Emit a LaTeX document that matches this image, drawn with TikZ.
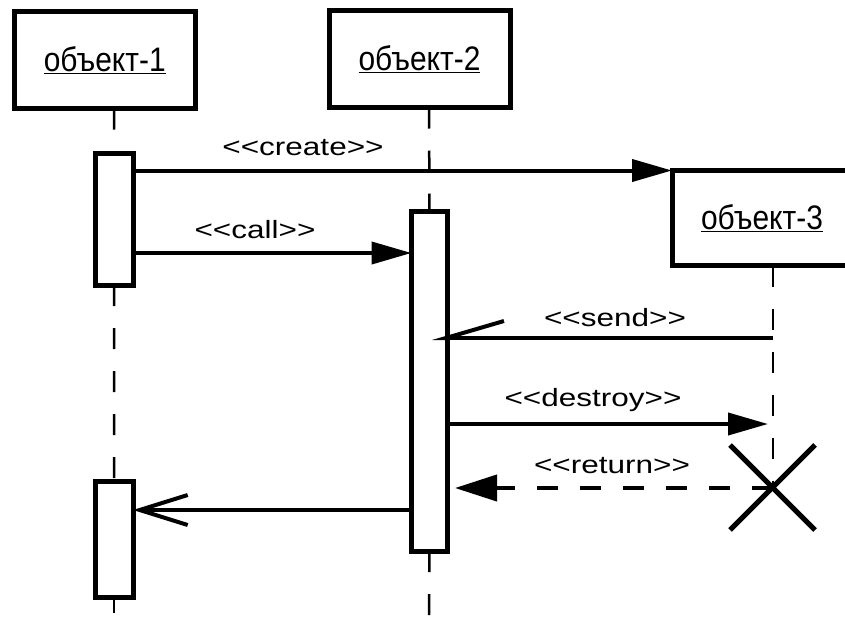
\documentclass[tikz,border=0pt]{standalone}
\usepackage{fontspec}
\setmainfont{Liberation Sans}
\usetikzlibrary{arrows.meta}
\newcommand{\objtext}[1]{\scalebox{0.88}[1]{\underline{#1}}}
\newcommand{\lbltext}[1]{\scalebox{1.26}[1]{#1}}
\begin{document}
\begin{tikzpicture}[x=1pt,y=-1pt,
  objbox/.style={draw,line width=5pt,inner sep=0pt,outer sep=0pt,font=\fontsize{34}{38}\selectfont},
  actbox/.style={draw,fill=white,line width=5pt,inner sep=0pt,outer sep=0pt},
  lifeline/.style={line width=2.5pt,dash pattern=on 21pt off 22pt},
  msg/.style={line width=4pt,-{Triangle[length=40pt,width=22pt]}},
  ret/.style={line width=4pt,dash pattern=on 21pt off 22pt,-{Triangle[length=42pt,width=26pt]}},
  reply/.style={line width=4pt,-{Straight Barb[length=48pt,width=30pt,line width=4pt]}},
  halfmsg/.style={line width=4pt,-{Straight Barb[harpoon,swap,length=58pt,width=34pt,line width=4pt]}},
  lbl/.style={font=\fontsize{25}{29}\selectfont,inner sep=0pt},
  cross/.style={line width=5pt}]
\useasboundingbox (0,0) rectangle (845,635);
\clip (0,0) rectangle (845,635);
% object boxes
\node[objbox,minimum width=180.5pt,minimum height=97pt] (o1) at (104.75,60) {\objtext{объект-1}};
\node[objbox,minimum width=181pt,minimum height=97.5pt] (o2) at (419.5,58.75) {\objtext{объект-2}};
\node[objbox,minimum width=180pt,minimum height=95pt] (o3) at (762,218) {\objtext{объект-3}};
% lifeline anchors
\coordinate (l1top) at (114,108.5);
\coordinate (l1bot) at (114,613);
\coordinate (l2top) at (429,107.5);
\coordinate (l2bot) at (429,635);
\coordinate (l3top) at (773,265.5);
\coordinate (xc) at (773,488);
% activation boxes
\node[actbox,minimum width=37.5pt,minimum height=131.5pt] (a1) at (114.25,219.25) {};
\node[actbox,minimum width=38pt,minimum height=116pt] (a1b) at (114,539) {};
\node[actbox,minimum width=36pt,minimum height=340pt] (a2) at (429.5,381) {};
% lifelines
\draw[lifeline] (l1top) -- (a1.north);
\draw[lifeline] (a1.south) -- (a1b.north);
\draw[lifeline] (a1b.south) -- (l1bot);
\draw[lifeline] (l2top) -- (a2.north);
\draw[lifeline] (a2.south) -- (l2bot);
\draw[lifeline] (l3top) -- (xc);
% message coordinates
\coordinate (ycall) at (0,253);
\coordinate (sendS) at (773,338);
\coordinate (sendE) at (432,338);
\coordinate (ydes) at (0,424);
\coordinate (desE) at (768,424);
\coordinate (retE) at (455,488);
\coordinate (yrep) at (0,510);
% messages
\draw[msg] (a1.east |- o3.north west) -- (o3.north west);
\draw[msg] (a1.east |- ycall) -- (a2.west |- ycall);
\draw[halfmsg] (sendS) -- (sendE);
\draw[msg] (a2.east |- ydes) -- (desE);
\draw[ret] (xc) -- (retE);
\draw[reply] (a2.west |- yrep) -- (a1b.east |- yrep);
% destruction mark
\draw[cross] (730,445) -- (815,530);
\draw[cross] (730,530) -- (815,445);
% labels
\node[lbl] (lc) at (303,148) {\lbltext{<{}<create>{}>}};
\node[lbl] (lcall) at (255,230) {\lbltext{<{}<call>{}>}};
\node[lbl] (ls) at (615,318) {\lbltext{<{}<send>{}>}};
\node[lbl] (ld) at (593,400) {\lbltext{<{}<destroy>{}>}};
\node[lbl] (lr) at (612,466) {\lbltext{<{}<return>{}>}};
\end{tikzpicture}
\end{document}
